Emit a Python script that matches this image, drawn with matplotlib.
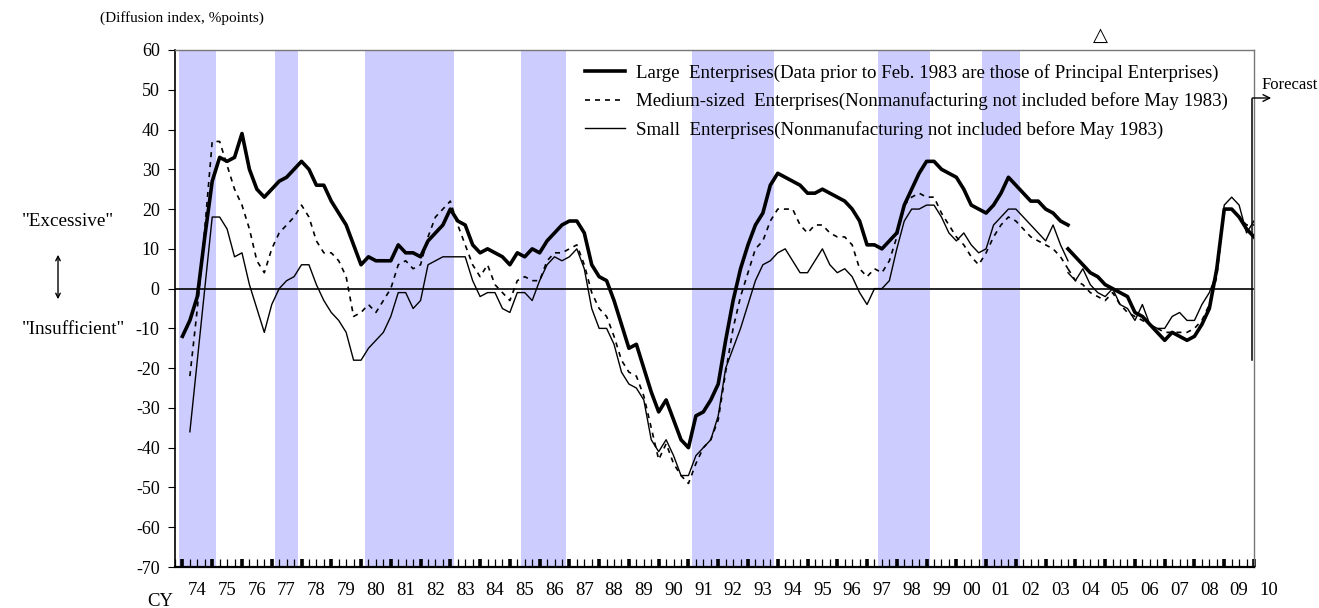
import numpy as np
import matplotlib
matplotlib.use("Agg")
import matplotlib.pyplot as plt
from matplotlib.transforms import blended_transform_factory

plt.rcParams['font.family'] = ['Liberation Serif', 'DejaVu Serif']
plt.rcParams['axes.unicode_minus'] = False

# quarterly survey points, 1974Q1 = index 0
large_old = [-12, -8, -2, 13, 27, 33, 32, 33, 39, 30, 25, 23, 25, 27, 28, 30, 32, 30, 26, 26,
             22, 19, 16, 11, 6, 8, 7, 7, 7, 11, 9, 9, 8, 12, 14, 16, 20, 17, 16, 11,
             9, 10, 9, 8, 6, 9, 8, 10, 9, 12, 14, 16, 17, 17, 14, 6, 3, 2, -3, -9,
             -15, -14, -20, -26, -31, -28, -33, -38, -40, -32, -31, -28, -24, -13, -3, 5, 11, 16, 19, 26,
             29, 28, 27, 26, 24, 24, 25, 24, 23, 22, 20, 17, 11, 11, 10, 12, 14, 21, 25, 29,
             32, 32, 30, 29, 28, 25, 21, 20, 19, 21, 24, 28, 26, 24, 22, 22, 20, 19, 17, 16]
large_new = [10, 8, 6, 4, 3, 1, 0, -1, -2, -6, -7, -9, -11, -13, -11, -12, -13, -12, -9, -5,
             5, 20, 20, 18, 15, 13]

medium_old = [-22, -5, 15, 37, 37, 31, 25, 21, 15, 7, 4, 10, 14, 16, 18, 21, 18, 12, 9,
              9, 7, 3, -7, -6, -4, -6, -3, 0, 6, 7, 5, 6, 13, 18, 20, 22, 16, 11, 6,
              3, 6, 1, -1, -3, 2, 3, 2, 2, 7, 9, 9, 10, 11, 6, -1, -5, -7, -12, -18,
              -21, -22, -27, -35, -43, -39, -44, -47, -49, -44, -40, -38, -33, -21, -10, -2, 4, 10, 12, 17,
              20, 20, 20, 16, 14, 16, 16, 14, 13, 13, 11, 5, 3, 5, 4, 7, 13, 21, 23, 24,
              23, 23, 19, 16, 13, 11, 8, 6, 9, 13, 16, 18, 17, 15, 13, 12, 11, 10, 8, 5]
medium_new = [5, 2, 1, -1, -2, -3, -1, -4, -6, -7, -8, -9, -10, -11, -11, -11, -11, -10, -8, -4,
              3, 20, 20, 18, 16, 16]

small_old = [-36, -18, 0, 18, 18, 15, 8, 9, 1, -5, -11, -4, 0, 2, 3, 6, 6, 1, -3,
             -6, -8, -11, -18, -18, -15, -13, -11, -7, -1, -1, -5, -3, 6, 7, 8, 8, 8, 8, 2,
             -2, -1, -1, -5, -6, -1, -1, -3, 2, 6, 8, 7, 8, 10, 5, -5, -10, -10, -14, -21,
             -24, -25, -28, -38, -41, -38, -42, -47, -47, -42, -40, -38, -32, -20, -15, -10, -4, 2, 6, 7,
             9, 10, 7, 4, 4, 7, 10, 6, 4, 5, 3, -1, -4, 0, 0, 2, 10, 17, 20, 20,
             21, 21, 18, 14, 12, 14, 11, 9, 10, 16, 18, 20, 20, 18, 16, 14, 12, 16, 11, 7]
small_new = [4, 2, 5, 1, -1, -2, 0, -4, -5, -8, -4, -9, -10, -10, -7, -6, -8, -8, -4, -1,
             4, 21, 23, 21, 14, 17]

# recession shading, in quarters (start, end) inclusive
recessions = [(1974.0, 1975.0), (1977.25, 1977.75), (1980.25, 1983.0), (1985.5, 1986.75),
              (1991.25, 1993.75), (1997.5, 1999.0), (2001.0, 2002.0)]

year_labels = ["74", "75", "76", "77", "78", "79", "80", "81", "82", "83", "84", "85", "86",
               "87", "88", "89", "90", "91", "92", "93", "94", "95", "96", "97", "98", "99",
               "00", "01", "02", "03", "04", "05", "06", "07", "08", "09", "10"]

def qx(start, n):
    return 1974 + (start + np.arange(n)) / 4.0

fig = plt.figure(figsize=(13.19, 6.08), dpi=100)
ax = fig.add_axes([175 / 1319, 1 - 567 / 608, (1254 - 175) / 1319, (567 - 50) / 608])

for a, b in recessions:
    ax.axvspan(a - 0.125, b + 0.125, color="#ccccff", lw=0, zorder=0)

ax.axhline(0, color="black", lw=1.2, zorder=1)

ax.plot(qx(0, len(large_old)), large_old, color="black", lw=2.6, zorder=4,
        label="Large  Enterprises(Data prior to Feb. 1983 are those of Principal Enterprises)")
ax.plot(qx(1, len(medium_old)), medium_old, color="black", lw=1.2, dashes=(3, 3), zorder=3,
        label="Medium-sized  Enterprises(Nonmanufacturing not included before May 1983)")
ax.plot(qx(1, len(small_old)), small_old, color="black", lw=1.0, zorder=3,
        label="Small  Enterprises(Nonmanufacturing not included before May 1983)")
ax.plot(qx(119, len(large_new)), large_new, color="black", lw=2.6, zorder=4)
ax.plot(qx(119, len(medium_new)), medium_new, color="black", lw=1.2, dashes=(3, 3), zorder=3)
ax.plot(qx(119, len(small_new)), small_new, color="black", lw=1.0, zorder=3)

ax.set_xlim(1973.75, 2010.0)
ax.set_ylim(-70, 60)
ax.set_yticks(np.arange(-70, 61, 10))
ax.tick_params(axis="y", direction="out", length=5, labelsize=13, pad=6)

ax.set_xticks(np.arange(1973.75, 2010.01, 0.25), minor=True)
ax.set_xticks([])
ax.tick_params(axis="x", which="minor", direction="in", length=6, width=0.9)
tr = blended_transform_factory(ax.transData, ax.transAxes)
ax.vlines(np.arange(1974, 2011), 0, 0.015, transform=tr, color="black", lw=2.6, clip_on=False)
for k, lab in enumerate(year_labels):
    ax.text(1974.5 + k, -0.045, lab, transform=tr, ha="center", va="center", fontsize=13.5)

for s in ["top", "right"]:
    ax.spines[s].set_color("#777777")
    ax.spines[s].set_linewidth(1.0)
ax.spines["left"].set_linewidth(1.2)
ax.spines["bottom"].set_linewidth(1.6)

ax.legend(loc="upper left", bbox_to_anchor=(0.38, 0.973), frameon=False, fontsize=13.6,
          handlelength=2.1, handletextpad=0.6, labelspacing=0.56, borderaxespad=0.0,
          borderpad=0.0)

fig.text(100 / 1319, 1 - 18 / 608, "(Diffusion index, %points)", fontsize=11, va="center")
fig.text(22 / 1319, 1 - 222 / 608, "\"Excessive\"", fontsize=13.8, va="center")
fig.text(22 / 1319, 1 - 330 / 608, "\"Insufficient\"", fontsize=13.8, va="center")
fig.text(147 / 1319, 1 - 601 / 608, "CY", fontsize=13.5, va="center")
fig.text(1100 / 1319, 1 - 35 / 608, "\u25b3", fontsize=14, va="center", ha="center",
         family=["DejaVu Sans"])
ax.annotate("", xy=(58 / 1319, 1 - 302 / 608), xytext=(58 / 1319, 1 - 252 / 608),
            xycoords="figure fraction", textcoords="figure fraction",
            arrowprops=dict(arrowstyle="<->", lw=1.0, color="black", mutation_scale=8))

# forecast marker
ax.plot([2009.93, 2009.93], [-18, 47.7], color="black", lw=1.1, clip_on=False, zorder=5)
ax.annotate("", xy=(1274 / 1319, 1 - 98 / 608), xytext=(1249.5 / 1319, 1 - 98 / 608),
            xycoords="figure fraction", textcoords="figure fraction",
            arrowprops=dict(arrowstyle="->", lw=1.0, color="black", mutation_scale=12))
fig.text(1262 / 1319, 1 - 85 / 608, "Forecast", fontsize=12, va="center")

fig.savefig("out.png", dpi=100)
